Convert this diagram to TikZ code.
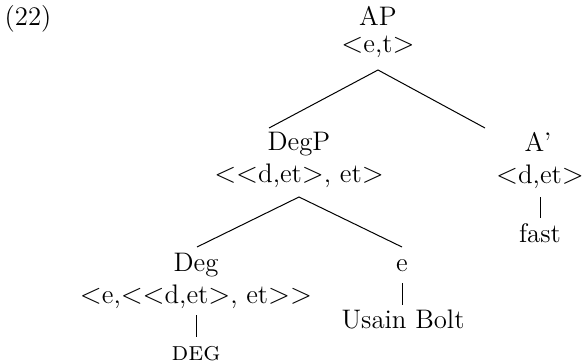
\documentclass[tikz,border=0pt]{standalone}
\begin{document}
\begin{tikzpicture}[x=0.5pt,y=-0.5pt,
  every node/.style={inner sep=0pt,outer sep=0pt,font=\fontsize{13.4}{16}\selectfont},
  lbl/.style={anchor=base},
  edge/.style={line width=0.5pt}]
\useasboundingbox (0,0) rectangle (582,363);
\node[lbl] (ex) at (28,26) {(22)};
% labels
\node[lbl] (AP) at (378,26) {AP};
\node[lbl] (APt) at (378,53) {$<$e,t$>$};
\node[lbl] (DegP) at (299,151) {DegP};
\node[lbl] (DegPt) at (299,183) {$<<$d,et$>$, et$>$};
\node[lbl] (Ap) at (538,152) {A'};
\node[lbl] (Apt) at (540,184) {$<$d,et$>$};
\node[lbl] (fast) at (540,242) {fast};
\node[lbl] (Deg) at (196,271) {Deg};
\node[lbl] (Degt) at (196,303) {$<$e,$<<$d,et$>$, et$>>$};
\node[lbl] (DEG) at (196,360) {\textsc{deg}};
\node[lbl] (e) at (402,271) {e};
\node[lbl] (UB) at (403,328) {Usain Bolt};
% attachment points
\coordinate (APbot) at (378,70);
\coordinate (DegPtop) at (269,128);
\coordinate (Aptop) at (485,128);
\coordinate (DegPbot) at (299,197);
\coordinate (Degtop) at (197,247);
\coordinate (etop) at (402,247);
\coordinate (Apbot) at (540,197);
\coordinate (fasttop) at (540,218);
\coordinate (Degbot) at (196,315);
\coordinate (DEGtop) at (196,337);
\coordinate (ebot) at (402,283);
\coordinate (UBtop) at (402,305);
% connectors
\draw[edge] (DegPtop) -- (APbot) -- (Aptop);
\draw[edge] (Degtop) -- (DegPbot) -- (etop);
\draw[edge] (Apbot) -- (fasttop);
\draw[edge] (Degbot) -- (DEGtop);
\draw[edge] (ebot) -- (UBtop);
\end{tikzpicture}
\end{document}
